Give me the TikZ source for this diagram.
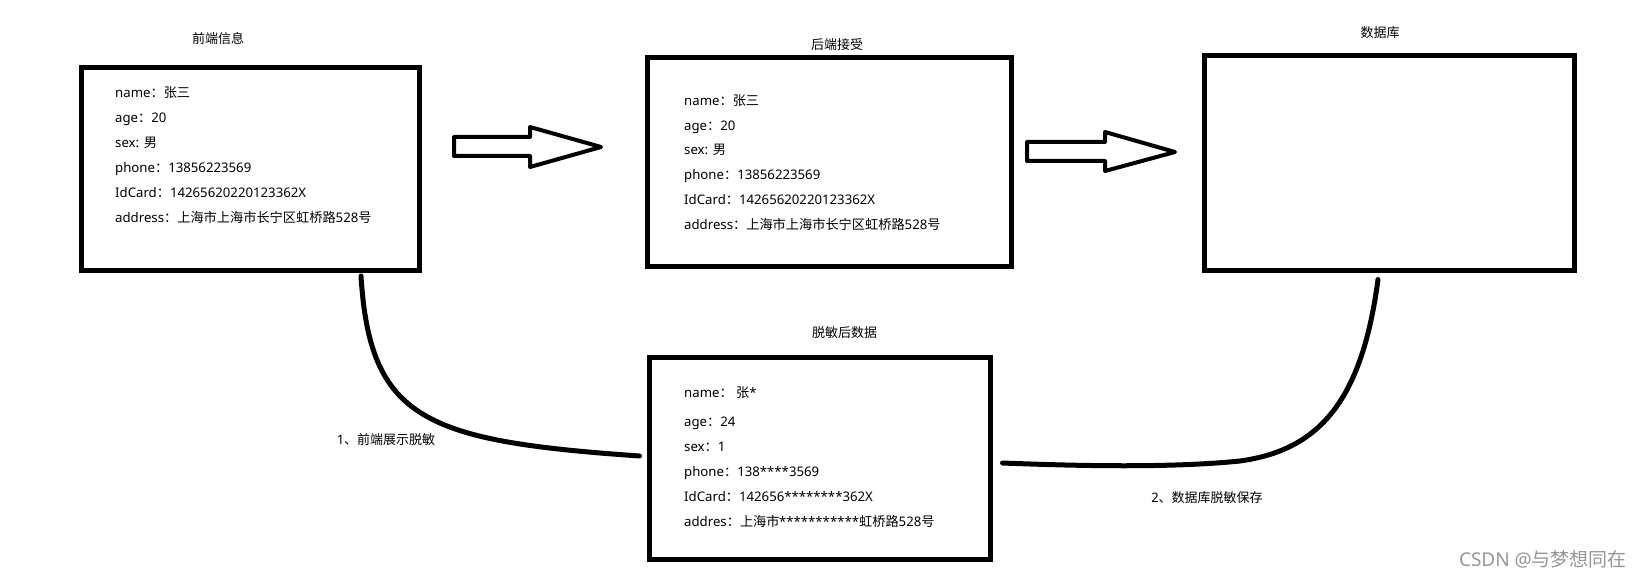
\documentclass[tikz,border=0pt]{standalone}
\usepackage{fontspec}
\setmainfont{Noto Sans}
\newfontfamily\cjkf{Noto Sans CJK SC}
\newcommand\zh[1]{{\cjkf #1}}
\definecolor{wm}{RGB}{150,150,150}
\begin{document}
\begin{tikzpicture}[x=1pt,y=-1pt,
  box/.style={draw, line width=5pt, inner sep=0pt},
  field/.style={anchor=west, font=\fontsize{13.2}{15}\selectfont, text height=10pt, text depth=3pt, inner sep=0pt, yshift=-2pt},
  ttl/.style={font=\cjkf\fontsize{13}{15}\selectfont, inner sep=0pt},
  lbl/.style={font=\fontsize{13}{15}\selectfont, inner sep=0pt},
  conn/.style={line width=5pt, line cap=round},
  blockarrow/.style={draw, line width=4pt, line join=round, fill=white}]
\fill[white] (0,0) rectangle (1643,577);
\useasboundingbox (0,0) rectangle (1643,577);

% boxes
\node[box, minimum width=338pt, minimum height=203pt] (front) at (250.5,169) {};
\node[box, minimum width=364pt, minimum height=209pt] (back) at (829.5,162) {};
\node[box, minimum width=370pt, minimum height=215pt] (db) at (1389.5,163) {};
\node[box, minimum width=341pt, minimum height=202pt] (masked) at (820,458.5) {};

% titles
\node[ttl] (tfront) at (218,39) {前端信息};
\node[ttl] (tback) at (837,45) {后端接受};
\node[ttl] (tdb) at (1380,33) {数据库};
\node[ttl] (tmasked) at (844.5,333) {脱敏后数据};

% front fields
\node[field] (f1) at (115,92) {name\zh{：张三}};
\node[field] (f2) at (115,117) {age\zh{：}20};
\node[field] (f3) at (115,142) {sex: \zh{男}};
\node[field] (f4) at (115,167) {phone\zh{：}13856223569};
\node[field] (f5) at (115,192) {IdCard\zh{：}14265620220123362X};
\node[field] (f6) at (115,217) {address\zh{：上海市上海市长宁区虹桥路}528\zh{号}};

% back fields
\node[field] (b1) at (684,100) {name\zh{：张三}};
\node[field] (b2) at (684,125) {age\zh{：}20};
\node[field] (b3) at (684,149) {sex: \zh{男}};
\node[field] (b4) at (684,174) {phone\zh{：}13856223569};
\node[field] (b5) at (684,199) {IdCard\zh{：}14265620220123362X};
\node[field] (b6) at (684,224) {address\zh{：上海市上海市长宁区虹桥路}528\zh{号}};

% masked fields
\node[field] (m1) at (684,392) {name\zh{：}\ \zh{张}*};
\node[field] (m2) at (684,421) {age\zh{：}24};
\node[field] (m3) at (684,446) {sex\zh{：}1};
\node[field] (m4) at (684,471) {phone\zh{：}138****3569};
\node[field] (m5) at (684,496) {IdCard\zh{：}142656********362X};
\node[field] (m6) at (684,521) {addres\zh{：上海市}\kern-0.5pt***********\zh{虹桥路}528\zh{号}};

% block arrows
\coordinate (a1) at (454,137);
\draw[blockarrow] (a1) -- ++(76,0) -- ++(0,-10) -- ++(71,20) -- ++(-71,20) -- ++(0,-11) -- ++(-76,0) -- cycle;
\coordinate (a2) at (1027,142);
\draw[blockarrow] (a2) -- ++(78,0) -- ++(0,-10) -- ++(70,20) -- ++(-70,19) -- ++(0,-10) -- ++(-78,0) -- cycle;

% curved connectors
\coordinate (c1a) at ([xshift=110.5pt,yshift=-3pt]front.south);
\coordinate (c1b) at ([xshift=-7.5pt,yshift=2.5pt]masked.west);
\draw[conn] (c1a) .. controls (370,420) and (425,441) .. (c1b);
\coordinate (c2a) at ([xshift=-11.5pt,yshift=-6.5pt]db.south);
\coordinate (c2b) at ([xshift=9.5pt,yshift=-4.5pt]masked.east);
\draw[conn] (c2a) .. controls (1362,400) and (1320,450) .. (1240,461) .. controls (1170,468) and (1080,466) .. (c2b);

% connector labels
\node[lbl] (l1) at (386,440) {1\zh{、前端展示脱敏}};
\node[lbl] (l2) at (1207,498) {2\zh{、数据库脱敏保存}};

% watermark
\node[anchor=east, inner sep=0pt, text=wm, font=\fontsize{19}{22}\selectfont] (wmk) at (1627,559) {CSDN @\zh{与梦想同在}};
\end{tikzpicture}
\end{document}
